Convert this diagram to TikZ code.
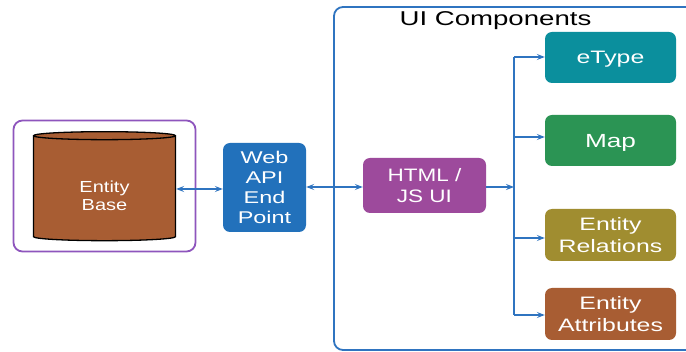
\documentclass[tikz,border=0pt]{standalone}
\usepackage{fontspec}
\setmainfont{Liberation Sans}[FakeStretch=1.25]
\newfontfamily\widefont{Liberation Sans}[FakeStretch=1.38]
\usetikzlibrary{arrows.meta,shapes.geometric}
\definecolor{lnblue}{HTML}{2F74C0}
\definecolor{apiblue}{HTML}{2271BB}
\definecolor{htmlpurple}{HTML}{9D4A9C}
\definecolor{etypeteal}{HTML}{0B8F9D}
\definecolor{mapgreen}{HTML}{2B9454}
\definecolor{relolive}{HTML}{A08D30}
\definecolor{attrbrown}{HTML}{A85D33}
\definecolor{boxpurple}{HTML}{8E55BD}
\tikzset{
  comp/.style={rounded corners=7pt, text=white, align=center, inner sep=0pt, text depth=0pt, font=\widefont\fontsize{18}{22}\selectfont},
  conn/.style={draw=lnblue, line width=1.3pt, -{Stealth[length=8pt,width=6pt,inset=3pt]}},
  bconn/.style={conn, {Stealth[length=8pt,width=6pt,inset=3pt]}-{Stealth[length=8pt,width=6pt,inset=3pt]}},
}
\begin{document}
\begin{tikzpicture}[x=1pt,y=-1pt]
\useasboundingbox (0,0) rectangle (686,352);
\fill[white] (0,0) rectangle (686,352);
% outer purple box
\node[draw=boxpurple, line width=1.8pt, rounded corners=9pt, minimum width=182pt, minimum height=131pt, inner sep=0pt] (dbbox) at (104.5,186) {};
% cylinder
\node[cylinder, shape border rotate=90, draw=black, line width=1.3pt, fill=attrbrown, minimum width=142pt, minimum height=109pt, aspect=0.16, inner sep=0pt, align=center, font=\fontsize{16}{21}\selectfont] (db) at (104.5,188.5) {\phantom{Entity}\\\phantom{Base}};
\node[text=white, align=center, inner sep=0pt, text depth=0pt, font=\fontsize{16}{18}\selectfont] (dbtext) at (104.5,195.5) {Entity\\Base};
% container
\draw[lnblue, line width=1.8pt, rounded corners=9pt] (700,7) -- (334,7) -- (334,350) -- (700,350);
\node[font=\widefont\fontsize{20}{22}\selectfont, anchor=base, inner sep=0pt] (title) at (495.5,25.5) {UI Components};
% web api
\node[comp, fill=apiblue, minimum width=83pt, minimum height=89pt, font=\widefont\fontsize{17}{20}\selectfont] (api) at (264.5,187.5) {Web\\API\\End\\Point};
% html
\node[comp, fill=htmlpurple, minimum width=123pt, minimum height=55pt, font=\rmfamily\fontsize{18}{20.5}\selectfont] (html) at (424.5,185.5) {HTML /\\JS UI};
% components
\node[comp, fill=etypeteal, minimum width=131pt, minimum height=51pt] (etype) at (610.5,57.5) {eType};
\node[comp, fill=mapgreen, minimum width=131pt, minimum height=51pt, font=\widefont\fontsize{19}{20}\selectfont] (map) at (610.5,140.5) {Map};
\node[comp, fill=relolive, minimum width=131pt, minimum height=52pt] (rel) at (610.5,235) {Entity\\Relations};
\node[comp, fill=attrbrown, minimum width=131pt, minimum height=52pt] (attr) at (610.5,314) {Entity\\Attributes};
% bus
\coordinate (bus) at (514,187);
\coordinate (bustop) at (514,57);
\coordinate (busbot) at (514,315);
% connectors
\draw[bconn] (db.east |- 0,189) -- (api.west |- 0,189);
\draw[bconn] (api.east |- 0,187) -- (html.west |- 0,187);
\draw[conn] (html.east |- 0,187) -- (bus);
\draw[lnblue, line width=1.3pt] (bustop) -- (busbot);
\draw[conn] (bustop) -- (etype.west |- bustop);
\draw[conn] (514,137) -- (map.west |- 0,137);
\draw[conn] (514,238) -- (rel.west |- 0,238);
\draw[conn] (busbot) -- (attr.west |- busbot);
\end{tikzpicture}
\end{document}
